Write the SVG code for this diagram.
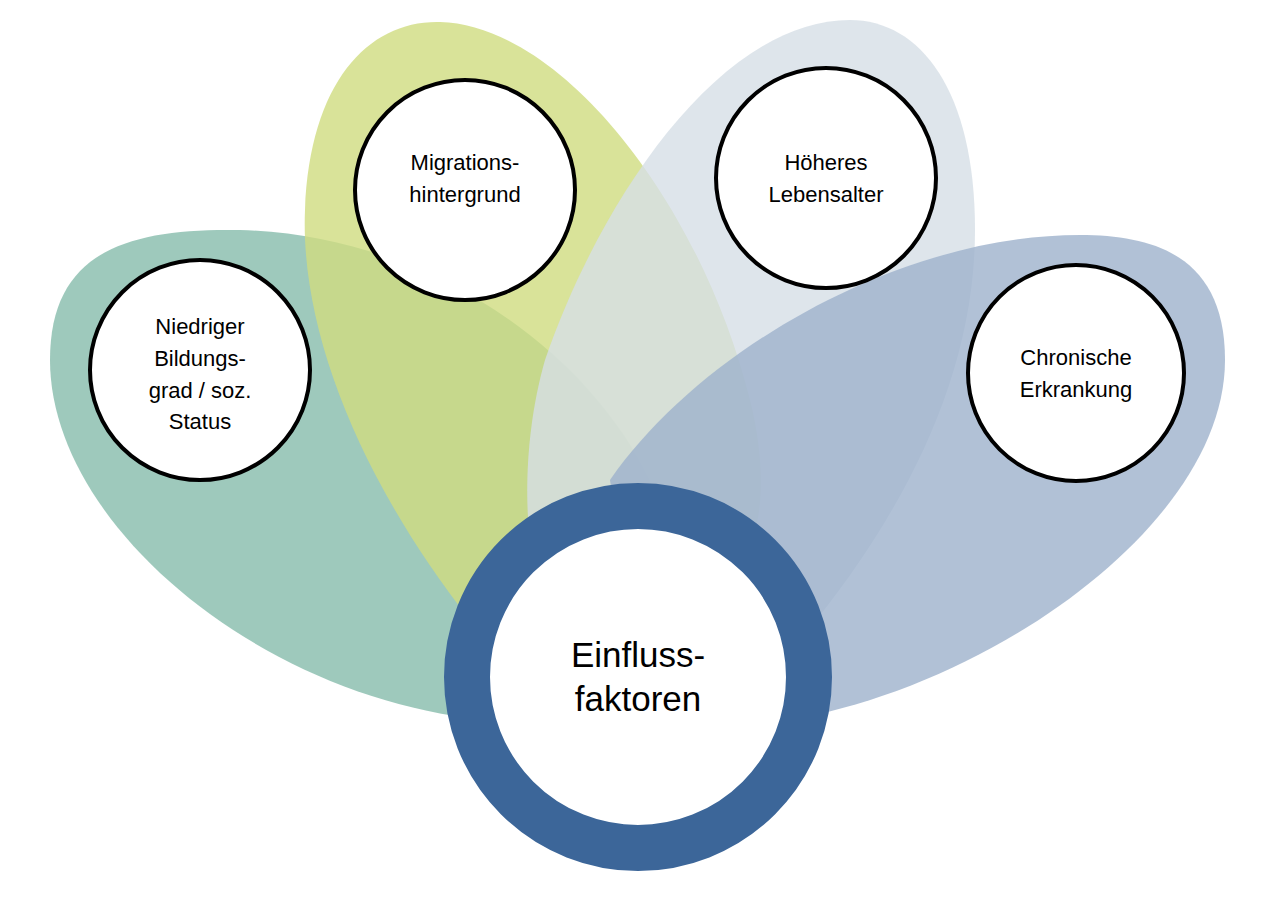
<svg xmlns="http://www.w3.org/2000/svg" width="1264" height="898" viewBox="0 0 1264 898">
<style>
.p{opacity:0.8}
.c{fill:#fff;stroke:#000;stroke-width:4}
.t{font-family:"Liberation Sans",Arial,sans-serif;font-size:22px;fill:#000;text-anchor:middle}
.b{font-size:35px}
</style>
<rect width="1264" height="898" fill="#fff"/>
<g id="petals">
<path class="p" fill="#86bcab" d="M470,718 C250,690 50,520 50,360 C50,250 130,228 240,230 C420,235 580,340 650,480 L640,680 Z"/>
<path class="p" fill="#cfdc7f" d="M470,620 C360,480 300,330 305,210 C310,80 370,20 440,22 C560,25 700,200 750,400 C770,480 760,540 740,560 Z"/>
<path class="p" fill="#d6dee6" d="M800,640 C900,520 975,380 975,230 C975,90 920,20 850,20 C720,20 600,200 545,360 C525,430 525,500 530,540 Z"/>
<path class="p" fill="#9db2cc" d="M800,718 C1000,680 1225,520 1225,360 C1225,260 1160,235 1080,235 C900,235 700,350 610,480 L640,680 Z"/>
</g>
<g id="connectors"></g>
<g id="n1"><circle class="c" cx="200" cy="370" r="110"/><text class="t" x="200" y="334">Niedriger</text><text class="t" x="200" y="366">Bildungs-</text><text class="t" x="200" y="398">grad / soz.</text><text class="t" x="200" y="429">Status</text></g>
<g id="n2"><circle class="c" cx="465" cy="190" r="110"/><text class="t" x="465" y="170">Migrations-</text><text class="t" x="465" y="202">hintergrund</text></g>
<g id="n3"><circle class="c" cx="826" cy="178" r="110"/><text class="t" x="826" y="170">Höheres</text><text class="t" x="826" y="202">Lebensalter</text></g>
<g id="n4"><circle class="c" cx="1076" cy="373" r="108"/><text class="t" x="1076" y="365">Chronische</text><text class="t" x="1076" y="397">Erkrankung</text></g>
<g id="center"><circle cx="638" cy="677" r="171" fill="#fff" stroke="#3c6699" stroke-width="46"/><text class="t b" x="638" y="667">Einfluss-</text><text class="t b" x="638" y="711">faktoren</text></g>
</svg>
